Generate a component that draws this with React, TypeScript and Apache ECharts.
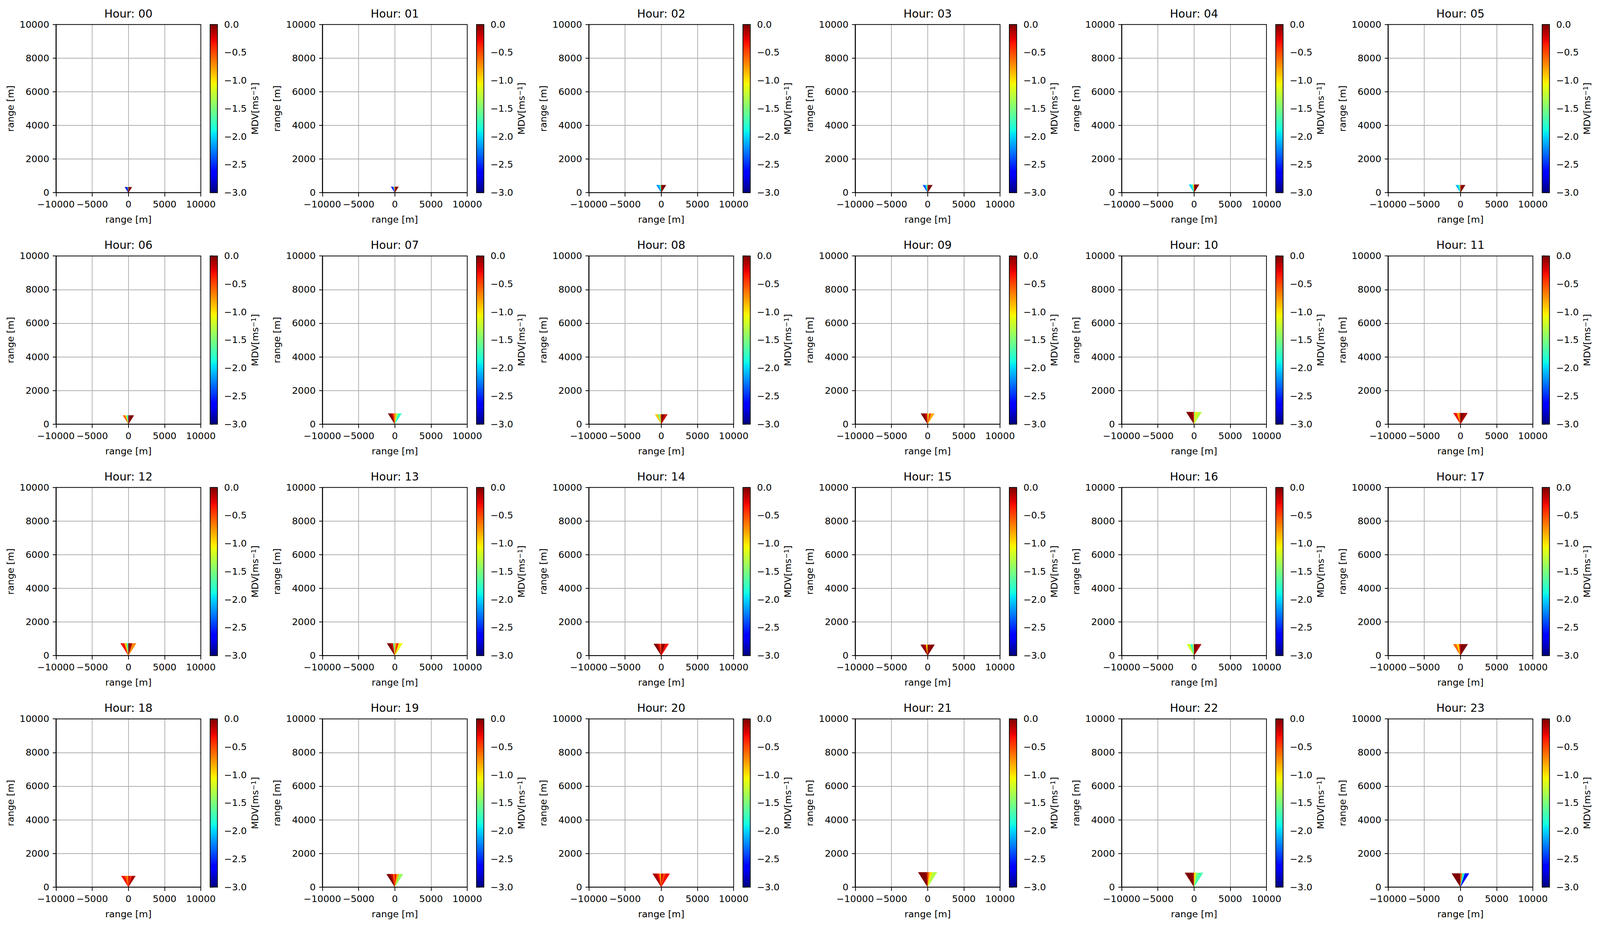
import React, { useEffect, useRef } from "react";
import * as echarts from "echarts";

// ---------------- data ----------------
const HOURS = ["00","01","02","03","04","05","06","07","08","09","10","11","12","13","14","15","16","17","18","19","20","21","22","23"];
// top height of the scanned wedge [m] per hour
const WEDGE_TOP = [330, 350, 450, 450, 480, 450, 520, 630, 580, 630, 720, 660, 730, 730, 700, 650, 680, 680, 660, 770, 800, 880, 850, 810];
// scan sector edges, degrees from zenith (left negative)
const SECTOR_EDGES = [-56, -37, -18, 0, 18, 37, 56];
// mean Doppler velocity per sector (left -> right) for each hour
const MDV_BY_HOUR = [
  [-2.8, -2.6, -1.6, 0.0, 0.0, 0.0],
  [-2.6, -2.2, -1.2, -0.2, 0.0, 0.0],
  [-2.2, -2.0, -1.5, 0.0, 0.0, 0.0],
  [-2.4, -2.0, -1.6, -0.1, 0.0, 0.0],
  [-2.0, -1.8, -1.1, -0.1, 0.0, 0.0],
  [-2.1, -1.9, -1.4, -0.2, 0.0, 0.0],
  [-0.6, -1.2, -1.9, -0.1, 0.0, 0.0],
  [0.0, -0.2, -0.6, -0.8, -1.3, -1.8],
  [-0.9, -1.6, -0.8, 0.0, 0.0, -0.2],
  [0.0, -0.1, -0.3, -1.2, -0.4, -0.8],
  [0.0, 0.0, -0.2, -1.4, -1.0, -1.3],
  [-0.3, -0.8, -0.5, 0.0, 0.0, -0.1],
  [-0.3, -0.9, -1.7, 0.0, -0.1, -0.7],
  [0.0, -0.2, -1.6, -0.8, -0.4, -1.1],
  [0.0, -0.2, -0.5, -0.1, 0.0, -0.3],
  [0.0, -0.2, -1.0, 0.0, -0.1, 0.0],
  [-1.2, -1.8, -1.4, 0.0, 0.0, -0.1],
  [-0.6, -1.0, -0.4, 0.0, 0.0, 0.0],
  [-0.3, -0.5, -0.7, -0.2, -0.4, -0.1],
  [0.0, -0.2, -0.6, -0.3, -0.8, -1.4],
  [-0.1, -0.3, -0.8, -0.2, -0.5, -0.3],
  [0.0, 0.0, -0.1, -0.6, -1.0, -1.3],
  [0.0, 0.0, -0.1, -1.0, -1.5, -1.7],
  [0.0, 0.0, 0.0, -0.6, -1.8, -2.6],
];
const X_RANGE = [-10000, 10000];
const Y_RANGE = [0, 10000];
const CB_RANGE = [-3, 0];

// ---------------- layout / style (in reference pixels, scaled to viewport) ----------------
const W = 4775;
const H = 2378;
const PLOT_L0 = 167;
const PLOT_T0 = 62.7;
const PITCH_X = 795.06;
const PITCH_Y = 592.5;
const PW = 432.4;
const PH = 430.5;
const CB_OFF = 460;
const CB_W = 22;
const FONT = "DejaVu Sans";
const FS = 27.8;
const LW = 2.2;

function interp(t: number, pts: number[][]) {
  for (let i = 1; i < pts.length; i++) {
    if (t <= pts[i][0]) {
      const [x0, y0] = pts[i - 1];
      const [x1, y1] = pts[i];
      return y0 + ((t - x0) / (x1 - x0)) * (y1 - y0);
    }
  }
  return pts[pts.length - 1][1];
}
function jet(t: number) {
  t = Math.max(0, Math.min(1, t));
  const r = interp(t, [[0, 0], [0.35, 0], [0.66, 1], [0.89, 1], [1, 0.5]]);
  const g = interp(t, [[0, 0], [0.125, 0], [0.375, 1], [0.64, 1], [0.91, 0], [1, 0]]);
  const b = interp(t, [[0, 0.5], [0.11, 1], [0.34, 1], [0.65, 0], [1, 0]]);
  return `rgb(${Math.round(r * 255)},${Math.round(g * 255)},${Math.round(b * 255)})`;
}
function valColor(v: number) {
  return jet((v - CB_RANGE[0]) / (CB_RANGE[1] - CB_RANGE[0]));
}
const minusFmt = (v: number, dec = 0) => {
  const s = Math.abs(v).toFixed(dec);
  return v < 0 ? "\u2212" + s : s;
};

function buildOption(sx: number, sy: number) {
  const s = Math.min(sx, sy);
  const grid: any[] = [];
  const xAxis: any[] = [];
  const yAxis: any[] = [];
  const series: any[] = [];
  const graphic: any[] = [];
  const stops: any[] = [];
  for (let k = 0; k <= 64; k++) stops.push({ offset: k / 64, color: jet(k / 64) });

  const fs = FS * s;
  const lw = LW * s;
  const txt = { fontFamily: FONT, fontSize: fs, color: "#000" };

  HOURS.forEach((hr, i) => {
    const r = Math.floor(i / 6);
    const c = i % 6;
    const L = (PLOT_L0 + c * PITCH_X) * sx;
    const T = (PLOT_T0 + r * PITCH_Y) * sy;
    const gi = grid.length;
    grid.push({ left: L, top: T, width: PW * sx, height: PH * sy, show: true, borderColor: "#000", borderWidth: lw, backgroundColor: "rgba(0,0,0,0)", z: 3 });
    grid.push({ left: L + CB_OFF * sx, top: T, width: CB_W * sx, height: PH * sy, show: true, borderColor: "#000", borderWidth: lw, backgroundColor: "rgba(0,0,0,0)", z: 3 });

    xAxis.push({
      gridIndex: gi, type: "value", min: X_RANGE[0], max: X_RANGE[1], interval: 5000,
      axisLine: { show: true, onZero: false, lineStyle: { color: "#000", width: lw } },
      axisTick: { show: true, length: 9.7 * sy, lineStyle: { color: "#000", width: lw } },
      axisLabel: { ...txt, margin: 18 * sy, showMinLabel: true, showMaxLabel: true, formatter: (v: number) => minusFmt(v) },
      splitLine: { show: true, showMinLine: false, showMaxLine: false, lineStyle: { color: "#b0b0b0", width: lw } },
      name: "range [m]", nameLocation: "middle", nameGap: 57 * sy, nameTextStyle: { ...txt },
    });
    yAxis.push({
      gridIndex: gi, type: "value", min: Y_RANGE[0], max: Y_RANGE[1], interval: 2000,
      axisLine: { show: true, onZero: false, lineStyle: { color: "#000", width: lw } },
      axisTick: { show: true, length: 9.7 * sx, lineStyle: { color: "#000", width: lw } },
      axisLabel: { ...txt, margin: 20 * sx, showMinLabel: true, showMaxLabel: true, formatter: (v: number) => minusFmt(v) },
      splitLine: { show: true, showMinLine: false, showMaxLine: false, lineStyle: { color: "#b0b0b0", width: lw } },
      name: "range [m]", nameLocation: "middle", nameGap: 121 * sx, nameTextStyle: { ...txt },
    });
    xAxis.push({ gridIndex: gi + 1, type: "value", min: 0, max: 1, show: false });
    yAxis.push({
      gridIndex: gi + 1, type: "value", position: "right", min: CB_RANGE[0], max: CB_RANGE[1], interval: 0.5,
      axisLine: { show: false },
      axisTick: { show: true, length: 9.7 * sx, lineStyle: { color: "#000", width: lw } },
      axisLabel: { ...txt, margin: 20 * sx, showMinLabel: true, showMaxLabel: true, formatter: (v: number) => minusFmt(v, 1) },
      splitLine: { show: false },
      name: "MDV[ms{sup|\u22121}]", nameLocation: "middle", nameGap: 98 * sx,
      nameTextStyle: { ...txt, rich: { sup: { fontFamily: FONT, fontSize: 19.5 * s, color: "#000", verticalAlign: "top", lineHeight: 20 * s } } },
    });

    const data = MDV_BY_HOUR[i].map((v, j) => [SECTOR_EDGES[j], SECTOR_EDGES[j + 1], WEDGE_TOP[i], v]);
    series.push({
      type: "custom", xAxisIndex: gi, yAxisIndex: gi, clip: true, z: 2,
      data,
      renderItem: (params: any, api: any) => {
        const a1 = (api.value(0) * Math.PI) / 180;
        const a2 = (api.value(1) * Math.PI) / 180;
        const h = api.value(2);
        const v = api.value(3);
        const pts = [api.coord([0, 0]), api.coord([h * Math.tan(a1), h]), api.coord([h * Math.tan(a2), h])];
        const col = valColor(v);
        return { type: "polygon", shape: { points: pts }, style: { fill: col, stroke: col, lineWidth: 0.6 * s } };
      },
    });
    series.push({
      type: "custom", xAxisIndex: gi + 1, yAxisIndex: gi + 1, z: 2,
      data: [[0, CB_RANGE[0]]],
      renderItem: (params: any, api: any) => {
        const p0 = api.coord([0, CB_RANGE[0]]);
        const p1 = api.coord([1, CB_RANGE[1]]);
        return {
          type: "rect",
          shape: { x: p0[0], y: p1[1], width: p1[0] - p0[0], height: p0[1] - p1[1] },
          style: { fill: new echarts.graphic.LinearGradient(0, 1, 0, 0, stops) },
        };
      },
    });

    graphic.push({
      type: "text", x: L + (PW / 2) * sx, y: T - 28 * sy,
      style: { text: "Hour: " + hr, fontFamily: FONT, fontSize: 33.3 * s, fill: "#000", textAlign: "center", textVerticalAlign: "middle", align: "center", verticalAlign: "middle" },
    });
  });

  return { animation: false, backgroundColor: "#fff", grid, xAxis, yAxis, series, graphic };
}

export default function App() {
  const ref = useRef<HTMLDivElement>(null);
  useEffect(() => {
    document.body.style.margin = "0";
    document.body.style.overflow = "hidden";
    const vw = window.innerWidth || W;
    const vh = window.innerHeight || H;
    const chart = echarts.init(ref.current!, null, { renderer: "svg", width: vw, height: vh });
    chart.setOption(buildOption(vw / W, vh / H) as any);
    return () => chart.dispose();
  }, []);
  return <div ref={ref} style={{ width: "100vw", height: "100vh" }} />;
}
